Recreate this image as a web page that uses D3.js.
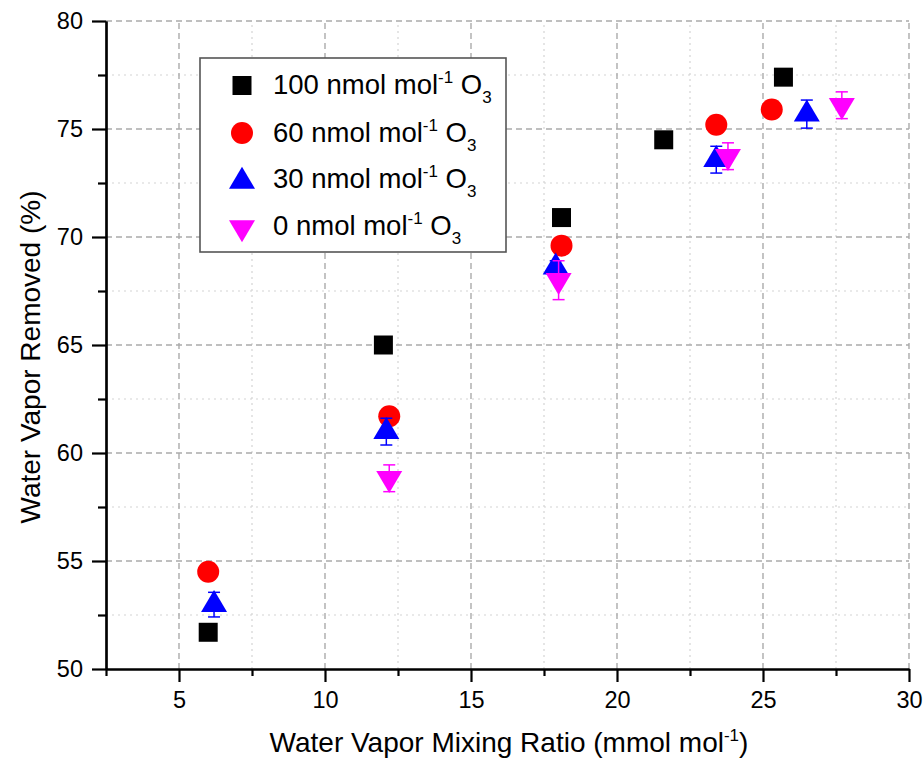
<!DOCTYPE html>
<html>
<head>
<meta charset="utf-8">
<script src="https://cdn.jsdelivr.net/npm/d3@7"></script>
<style>
  body { margin: 0; background: #fff; }
  svg text { font-family: "Liberation Sans", Arial, sans-serif; fill: #000; }
</style>
</head>
<body>
<svg id="chart" width="924" height="766"></svg>
<script>
"use strict";

// Data
var series = ['100', '60', '30', '0'];

var x100 = [6.0, 12.0, 18.1, 21.6, 25.7];
var y100 = [51.7, 65.0, 70.9, 74.5, 77.4];
var e100 = [0, 0, 0, 0, 0];

var x60 = [6.0, 12.2, 18.1, 23.4, 25.3];
var y60 = [54.5, 61.7, 69.6, 75.2, 75.9];
var e60 = [0, 0.3, 0, 0, 0];

var x30 = [6.2, 12.1, 17.9, 23.4, 26.5];
var y30 = [52.98, 60.99, 68.6, 73.58, 75.69];
var e30 = [0.57, 0.62, 0.3, 0.62, 0.65];

var x0 = [12.2, 18.0, 23.8, 27.7];
var y0 = [58.83, 68.0, 73.74, 76.1];
var e0 = [0.62, 0.9, 0.62, 0.62];

var xMajor = [5, 10, 15, 20, 25, 30];
var xMinor = [2.5, 7.5, 12.5, 17.5, 22.5, 27.5];
var yMajor = [50, 55, 60, 65, 70, 75, 80];
var yMinor = [52.5, 57.5, 62.5, 67.5, 72.5, 77.5];

var svg = d3.select('#chart');

var x = d3.scaleLinear().domain([2.5, 30]).range([106, 909]);
var y = d3.scaleLinear().domain([50, 80]).range([669, 21]);

// Marker shapes (triangles centred on their centroid)
var triUp = { draw: function(ctx) { ctx.moveTo(0, -14.7); ctx.lineTo(13, 7.3); ctx.lineTo(-13, 7.3); ctx.closePath(); } };
var triDown = { draw: function(ctx) { ctx.moveTo(0, 14.7); ctx.lineTo(13, -7.3); ctx.lineTo(-13, -7.3); ctx.closePath(); } };

var styles = [
	{ xs: x100, ys: y100, es: e100, color: '#000000', shape: d3.symbolSquare, size: 361 },
	{ xs: x60, ys: y60, es: e60, color: '#ff0000', shape: d3.symbolCircle, size: 380 },
	{ xs: x30, ys: y30, es: e30, color: '#0000ff', shape: triUp, size: 1 },
	{ xs: x0, ys: y0, es: e0, color: '#ff00ff', shape: triDown, size: 1 }
];

// Grid
var grid = svg.append('g');
grid.selectAll('.gxm').data(xMinor.slice(1)).join('line').
	attr('x1', d => x(d)).attr('x2', d => x(d)).attr('y1', y(50)).attr('y2', y(80)).
	attr('stroke', '#d4d4d4').attr('stroke-width', 1.2).attr('stroke-dasharray', '2,4');
grid.selectAll('.gym').data(yMinor).join('line').
	attr('x1', x(2.5)).attr('x2', x(30)).attr('y1', d => y(d)).attr('y2', d => y(d)).
	attr('stroke', '#d4d4d4').attr('stroke-width', 1.2).attr('stroke-dasharray', '2,4');
grid.selectAll('.gx').data(xMajor).join('line').
	attr('x1', d => x(d)).attr('x2', d => x(d)).attr('y1', y(50)).attr('y2', y(80)).
	attr('stroke', '#ababab').attr('stroke-width', 1.4).attr('stroke-dasharray', '6,4');
grid.selectAll('.gy').data(yMajor.slice(1)).join('line').
	attr('x1', x(2.5)).attr('x2', x(30)).attr('y1', d => y(d)).attr('y2', d => y(d)).
	attr('stroke', '#ababab').attr('stroke-width', 1.4).attr('stroke-dasharray', '6,4');

// Axes
var xAxis = svg.append('g').attr('transform', 'translate(0,' + y(50) + ')').
	call(d3.axisBottom(x).tickValues(xMajor).tickSize(13).tickSizeOuter(0).tickPadding(9));
var xAxisMinor = svg.append('g').attr('transform', 'translate(0,' + y(50) + ')').
	call(d3.axisBottom(x).tickValues(xMinor).tickSize(7).tickSizeOuter(0).tickFormat(''));
var yAxis = svg.append('g').attr('transform', 'translate(' + x(2.5) + ',0)').
	call(d3.axisLeft(y).tickValues(yMajor).tickSize(14).tickSizeOuter(0).tickPadding(9));
var yAxisMinor = svg.append('g').attr('transform', 'translate(' + x(2.5) + ',0)').
	call(d3.axisLeft(y).tickValues(yMinor).tickSize(8).tickSizeOuter(0).tickFormat(''));

[xAxis, xAxisMinor, yAxis, yAxisMinor].forEach(function(a) {
	a.attr('font-size', null).attr('font-family', null);
	a.selectAll('path.domain').attr('stroke', '#000').attr('stroke-width', 2.2);
	a.selectAll('.tick line').attr('stroke', '#000').attr('stroke-width', 2.2);
	a.selectAll('.tick text').style('font-size', '23.5px');
});

// Axis titles
var xt = svg.append('text').attr('x', 509).attr('y', 752).attr('text-anchor', 'middle').
	style('font-size', '28px');
xt.append('tspan').text('Water Vapor Mixing Ratio (mmol mol');
xt.append('tspan').attr('dy', -11).style('font-size', '17px').text('-1');
xt.append('tspan').attr('dy', 11).text(')');

svg.append('text').attr('transform', 'translate(40,357) rotate(-90)').
	attr('text-anchor', 'middle').style('font-size', '28px').
	text('Water Vapor Removed (%)');

// Series: error bars then markers
styles.forEach(function(s) {
	var g = svg.append('g');
	var idx = d3.range(s.xs.length).filter(i => s.es[i] > 0);
	g.selectAll('line.eb').data(idx).join('line').
		attr('x1', i => x(s.xs[i])).attr('x2', i => x(s.xs[i])).
		attr('y1', i => y(s.ys[i] - s.es[i])).attr('y2', i => y(s.ys[i] + s.es[i])).
		attr('stroke', s.color).attr('stroke-width', 1.5);
	[-1, 1].forEach(function(sg) {
		g.selectAll('line.cap' + sg).data(idx).join('line').
			attr('x1', i => x(s.xs[i]) - 6).attr('x2', i => x(s.xs[i]) + 6).
			attr('y1', i => y(s.ys[i] + sg * s.es[i])).attr('y2', i => y(s.ys[i] + sg * s.es[i])).
			attr('stroke', s.color).attr('stroke-width', 1.5);
	});
	g.selectAll('path.mk').data(d3.range(s.xs.length)).join('path').
		attr('transform', i => 'translate(' + x(s.xs[i]) + ',' + y(s.ys[i]) + ')').
		attr('d', d3.symbol().type(s.shape).size(s.size)).
		attr('fill', s.color);
});

// Legend
var lg = svg.append('g');
lg.append('rect').attr('x', 200).attr('y', 58).attr('width', 306).attr('height', 194).
	attr('fill', '#fff').attr('stroke', '#555').attr('stroke-width', 1.6);
var rowY = [85.5, 133, 181.5, 227.5];
var textY = [94, 142, 188, 235];
styles.forEach(function(s, k) {
	lg.append('path').attr('transform', 'translate(242,' + rowY[k] + ')').
		attr('d', d3.symbol().type(s.shape).size(s.size)).attr('fill', s.color);
	var t = lg.append('text').attr('x', 273).attr('y', textY[k]).style('font-size', '27.5px');
	t.append('tspan').text(series[k] + ' nmol mol');
	t.append('tspan').attr('dy', -11).style('font-size', '17px').text('-1');
	t.append('tspan').attr('dy', 11).text(' O');
	t.append('tspan').attr('dy', 9).style('font-size', '17px').text('3');
});
</script>
</body>
</html>
